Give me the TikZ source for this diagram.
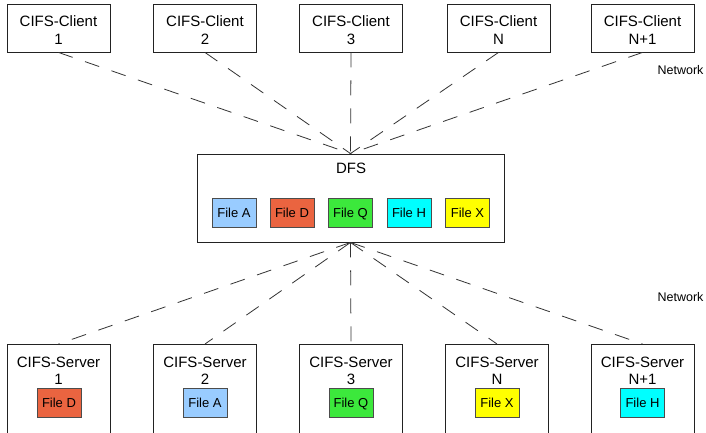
\documentclass[tikz,border=0pt]{standalone}
\usepackage{fontspec}
\setmainfont{Liberation Sans}
\definecolor{fileA}{HTML}{99CCFF}
\definecolor{fileD}{HTML}{EA6440}
\definecolor{fileQ}{HTML}{3CE83C}
\definecolor{fileH}{HTML}{00FFFF}
\definecolor{fileX}{HTML}{FFFF00}
\definecolor{boxline}{HTML}{222222}
\definecolor{linkgray}{HTML}{333333}
\tikzset{
  clientbox/.style={draw=boxline, line width=0.9pt, minimum width=103pt, minimum height=48pt, inner sep=0pt},
  clienttext/.style={align=center, inner sep=0pt, font=\fontsize{15}{18}\selectfont},
  serverbox/.style={draw=boxline, line width=0.9pt, minimum width=103pt, minimum height=110pt, inner sep=0pt, anchor=north},
  servertext/.style={align=center, inner sep=0pt, font=\fontsize{15}{17.5}\selectfont},
  dfsbox/.style={draw=boxline, line width=0.9pt, minimum width=307pt, minimum height=88pt, inner sep=0pt},
  filebox/.style={draw=black!70, line width=0.8pt, minimum width=44pt, minimum height=29pt, inner sep=0pt, text height=9.3pt, text depth=0pt, font=\fontsize{13}{14}\selectfont},
  link/.style={draw=linkgray, line width=0.8pt, dash pattern=on 15pt off 13pt},
  netlabel/.style={font=\fontsize{12.5}{14}\selectfont, inner sep=0pt},
  plain/.style={inner sep=0pt, font=\fontsize{15}{17}\selectfont}
}
\begin{document}
\begin{tikzpicture}[x=1pt,y=-1pt]
\clip (0,0) rectangle (706,432);
\fill[white] (0,0) rectangle (706,432);
% clients
\node[clientbox] (c1) at (58.5,28) {};
\node[clientbox] (c2) at (205,28) {};
\node[clientbox] (c3) at (351,28) {};
\node[clientbox] (cN) at (498.5,28) {};
\node[clientbox] (cN1) at (642.5,28) {};
\node[clienttext] (c1t) at (58.5,30) {CIFS-Client\\1};
\node[clienttext] (c2t) at (205,30) {CIFS-Client\\2};
\node[clienttext] (c3t) at (351,30) {CIFS-Client\\3};
\node[clienttext] (cNt) at (498.5,30) {CIFS-Client\\N};
\node[clienttext] (cN1t) at (642.5,30) {CIFS-Client\\N+1};
% DFS
\node[dfsbox] (dfs) at (350.5,198) {};
\node[plain] (dfslabel) at (351,168) {DFS};
\node[filebox, fill=fileA] (fa) at (234,212.5) {File A};
\node[filebox, fill=fileD] (fd) at (292,212.5) {File D};
\node[filebox, fill=fileQ] (fq) at (350.5,212.5) {File Q};
\node[filebox, fill=fileH] (fh) at (409,212.5) {File H};
\node[filebox, fill=fileX] (fx) at (467.5,212.5) {File X};
% servers
\node[serverbox] (s1) at (58.5,344) {};
\node[serverbox] (s2) at (205,344) {};
\node[serverbox] (s3) at (351,344) {};
\node[serverbox] (sN) at (497,344) {};
\node[serverbox] (sN1) at (642.5,344) {};
\node[servertext] (s1t) at (58.5,371) {CIFS-Server\\1};
\node[servertext] (s2t) at (205,371) {CIFS-Server\\2};
\node[servertext] (s3t) at (351,371) {CIFS-Server\\3};
\node[servertext] (sNt) at (497,371) {CIFS-Server\\N};
\node[servertext] (sN1t) at (642.5,371) {CIFS-Server\\N+1};
\node[filebox, fill=fileD] (s1f) at (59,403) {File D};
\node[filebox, fill=fileA] (s2f) at (205,403) {File A};
\node[filebox, fill=fileQ] (s3f) at (351,403) {File Q};
\node[filebox, fill=fileX] (sNf) at (497,403) {File X};
\node[filebox, fill=fileH] (sN1f) at (642.5,403) {File H};
% network labels
\node[netlabel] (net1) at (680.5,70.5) {Network};
\node[netlabel] (net2) at (680.5,297.5) {Network};
% links
\coordinate (dtop) at (dfs.north);
\coordinate (dbot) at (dfs.south);
\foreach \c in {c1,c2,c3,cN,cN1}{
  \draw[link] (\c.south) -- (dtop);
}
\foreach \s in {s1,s2,s3,sN,sN1}{
  \draw[link] (dbot) -- (\s.north);
}
\end{tikzpicture}
\end{document}
